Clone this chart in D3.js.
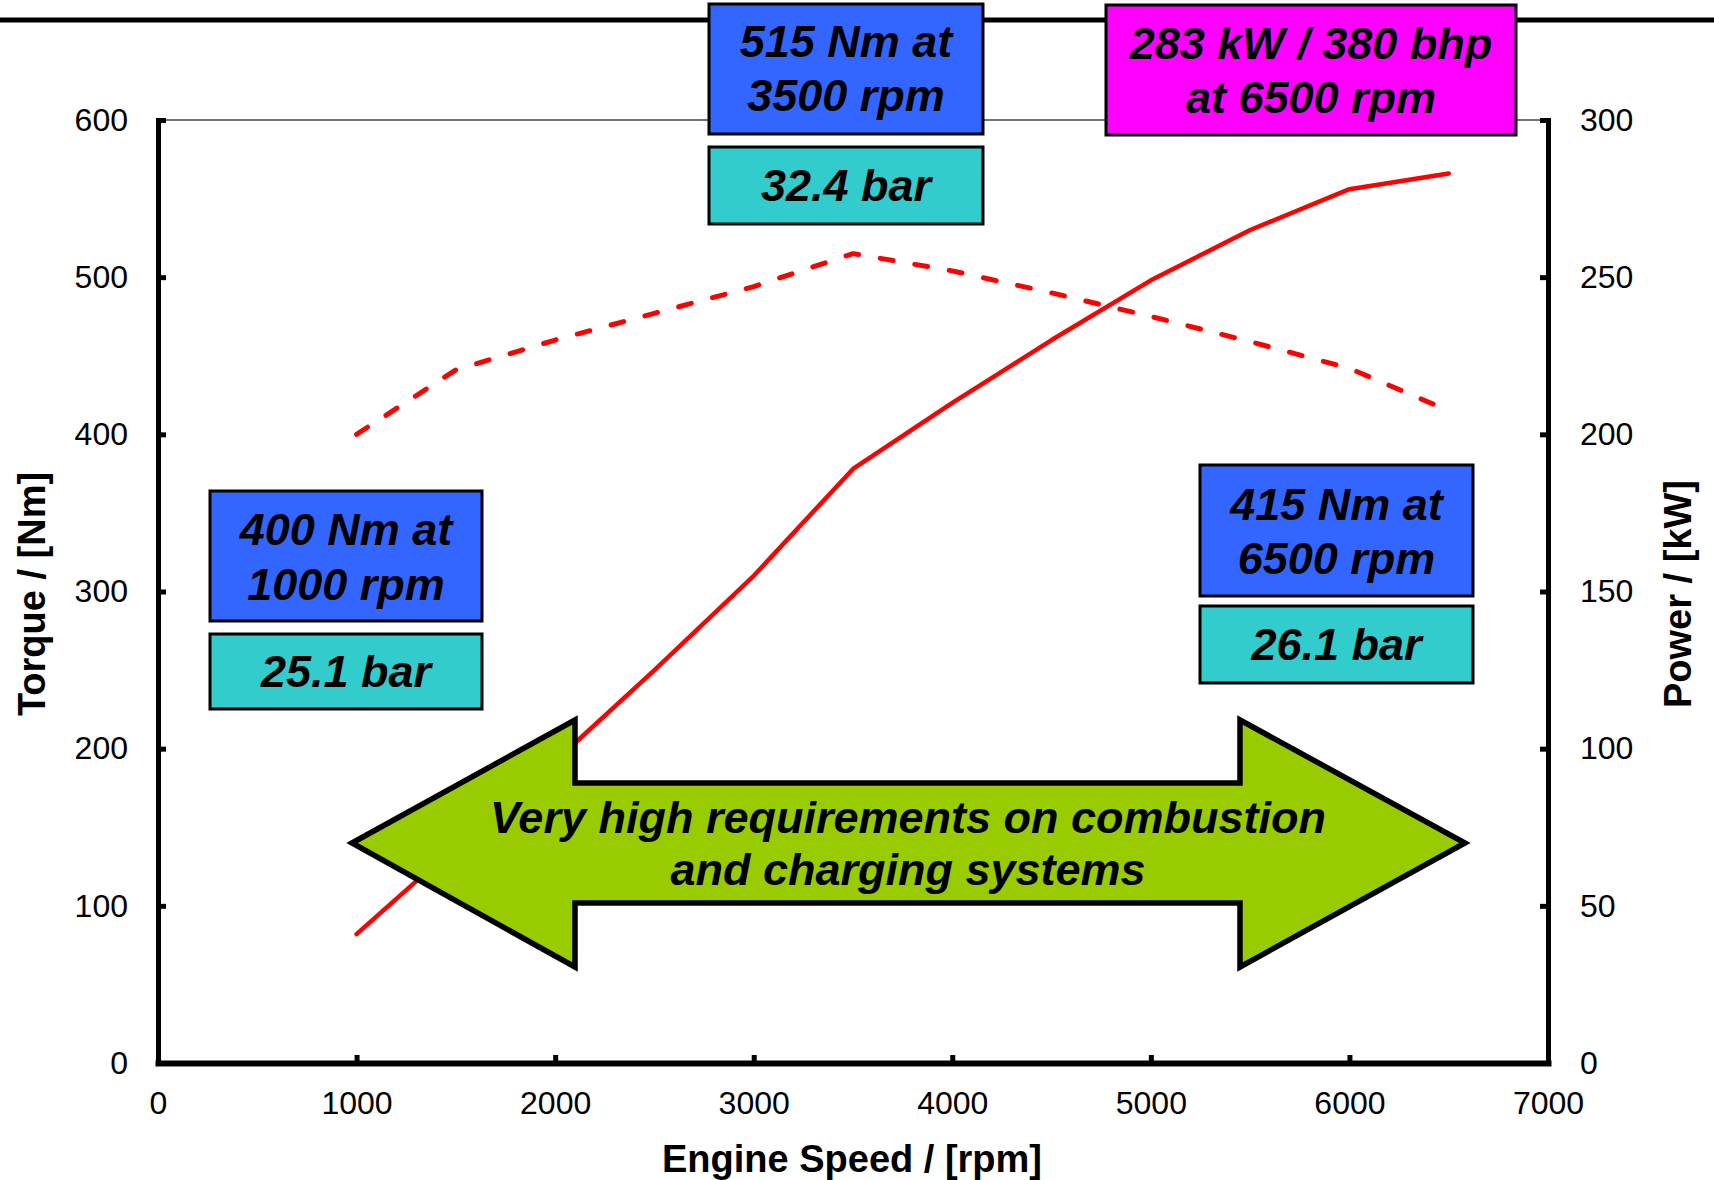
<!DOCTYPE html>
<html>
<head>
<meta charset="utf-8">
<script src="https://cdn.jsdelivr.net/npm/d3@7"></script>
<style>
  html, body { margin: 0; padding: 0; background: #fff; }
  svg { display: block; }
  text { font-family: "Liberation Sans", Arial, Helvetica, sans-serif; }
</style>
</head>
<body>
<script>
// Engine speed samples [rpm]
const engineSpeed = [1000, 1500, 2000, 2500, 3000, 3500, 4000, 4500, 5000, 5500, 6000, 6500];
// Full-load torque [Nm]
const torque = [400, 441, 460, 477, 494, 515, 504, 490, 475, 459, 442, 415];
// Full-load power [kW]
const power = [41, 69, 96, 125, 155, 189, 210, 230, 249, 265, 278, 283];

// Axis ticks
const speedTicks = [0, 1000, 2000, 3000, 4000, 5000, 6000, 7000];
const torqueTicks = [0, 100, 200, 300, 400, 500, 600];
const powerTicks = [0, 50, 100, 150, 200, 250, 300];

// Axis titles
const xTitle = "Engine Speed / [rpm]";
const yLeftTitle = "Torque / [Nm]";
const yRightTitle = "Power / [kW]";

// Callout texts
const peakTorqueText = ["515 Nm at", "3500 rpm"];
const peakTorqueBmep = "32.4 bar";
const peakPowerText = ["283 kW / 380 bhp", "at 6500 rpm"];
const lowEndText = ["400 Nm at", "1000 rpm"];
const lowEndBmep = "25.1 bar";
const ratedText = ["415 Nm at", "6500 rpm"];
const ratedBmep = "26.1 bar";
const arrowText = ["Very high requirements on combustion", "and charging systems"];

const W = 1714, H = 1180;
const svg = d3.select("body").append("svg").attr("width", W).attr("height", H);
svg.append("rect").attr("width", W).attr("height", H).attr("fill", "#fff");

const x = d3.scaleLinear().domain([0, 7000]).range([158, 1548]);
const yL = d3.scaleLinear().domain([0, 600]).range([1063, 120]);
const yR = d3.scaleLinear().domain([0, 300]).range([1063, 120]);

// slide header rule
svg.append("line").attr("x1", 0).attr("x2", W).attr("y1", 20).attr("y2", 20)
  .attr("stroke", "#000").attr("stroke-width", 5);

// thin frame line along the top of the plot
svg.append("line")
  .attr("x1", x(0)).attr("x2", x(7000))
  .attr("y1", yL(600)).attr("y2", yL(600))
  .attr("stroke", "#444").attr("stroke-width", 1.5);

function styleAxis(g, domainWidth) {
  g.select(".domain").attr("stroke", "#000").attr("stroke-width", domainWidth)
    .attr("stroke-linecap", "square");
  g.selectAll(".tick line").attr("stroke", "#000").attr("stroke-width", 5);
  g.selectAll(".tick text").attr("fill", "#000")
    .style("font-family", '"Liberation Sans", Arial, sans-serif')
    .style("font-size", "32px");
}

const gx = svg.append("g").attr("transform", `translate(0,${yL(0)})`)
  .call(d3.axisBottom(x).tickValues(speedTicks).tickFormat(d3.format("d"))
    .tickSizeInner(-8).tickSizeOuter(0).tickPadding(28));
styleAxis(gx, 6);

const gyl = svg.append("g").attr("transform", `translate(${x(0)},0)`)
  .call(d3.axisLeft(yL).tickValues(torqueTicks).tickFormat(d3.format("d"))
    .tickSizeInner(-8).tickSizeOuter(0).tickPadding(30));
styleAxis(gyl, 5);

const gyr = svg.append("g").attr("transform", `translate(${x(7000)},0)`)
  .call(d3.axisRight(yR).tickValues(powerTicks).tickFormat(d3.format("d"))
    .tickSizeInner(-8).tickSizeOuter(0).tickPadding(32));
styleAxis(gyr, 5);

// axis titles
svg.append("text").attr("x", 852).attr("y", 1172)
  .attr("text-anchor", "middle").attr("font-weight", "bold").attr("font-size", 38)
  .text(xTitle);
svg.append("text").attr("transform", "translate(45,594) rotate(-90)")
  .attr("text-anchor", "middle").attr("font-weight", "bold").attr("font-size", 38)
  .text(yLeftTitle);
svg.append("text").attr("transform", "translate(1691,594) rotate(-90)")
  .attr("text-anchor", "middle").attr("font-weight", "bold").attr("font-size", 38)
  .text(yRightTitle);

// curves
const torqueLine = d3.line().x((d, i) => x(engineSpeed[i])).y(d => yL(d));
const powerLine = d3.line().x((d, i) => x(engineSpeed[i])).y(d => yR(d));

svg.append("path").datum(torque).attr("d", torqueLine)
  .attr("fill", "none").attr("stroke", "#ff0000").attr("stroke-width", 5)
  .attr("stroke-dasharray", "13 22").attr("stroke-linecap", "round")
  .attr("stroke-linejoin", "round");

svg.append("path").datum(power).attr("d", powerLine)
  .attr("fill", "none").attr("stroke", "#ff0000").attr("stroke-width", 4.5)
  .attr("stroke-linecap", "round").attr("stroke-linejoin", "round");

// double-headed arrow
const arrowPts = [
  [352, 843], [575, 720], [575, 783], [1240, 783], [1240, 720],
  [1465, 843], [1240, 967], [1240, 903], [575, 903], [575, 967]
];
svg.append("polygon").attr("points", arrowPts.map(p => p.join(",")).join(" "))
  .attr("fill", "#99cc00").attr("stroke", "#000").attr("stroke-width", 5.5)
  .attr("stroke-linejoin", "miter");
arrowText.forEach((t, i) => {
  svg.append("text").attr("x", 908).attr("y", 833 + i * 52)
    .attr("text-anchor", "middle").attr("font-weight", "bold")
    .attr("font-style", "italic").attr("font-size", 45).text(t);
});

// callout boxes
function callout(x0, y0, x1, y1, fill, lines, baselines) {
  svg.append("rect").attr("x", x0).attr("y", y0)
    .attr("width", x1 - x0).attr("height", y1 - y0)
    .attr("fill", fill).attr("stroke", "#000").attr("stroke-width", 3);
  lines.forEach((t, i) => {
    svg.append("text").attr("x", (x0 + x1) / 2).attr("y", baselines[i])
      .attr("text-anchor", "middle").attr("font-weight", "bold")
      .attr("font-style", "italic").attr("font-size", 45).text(t);
  });
}

callout(709, 4, 983, 134, "#3366ff", peakTorqueText, [57, 111]);
callout(709, 147, 983, 224, "#33cccc", [peakTorqueBmep], [201]);
callout(1106, 5, 1516, 135, "#ff00ff", peakPowerText, [59, 113]);
callout(210, 491, 482, 621, "#3366ff", lowEndText, [545, 600]);
callout(210, 634, 482, 709, "#33cccc", [lowEndBmep], [687]);
callout(1200, 465, 1473, 596, "#3366ff", ratedText, [520, 574]);
callout(1200, 606, 1473, 683, "#33cccc", [ratedBmep], [660]);
</script>
</body>
</html>
